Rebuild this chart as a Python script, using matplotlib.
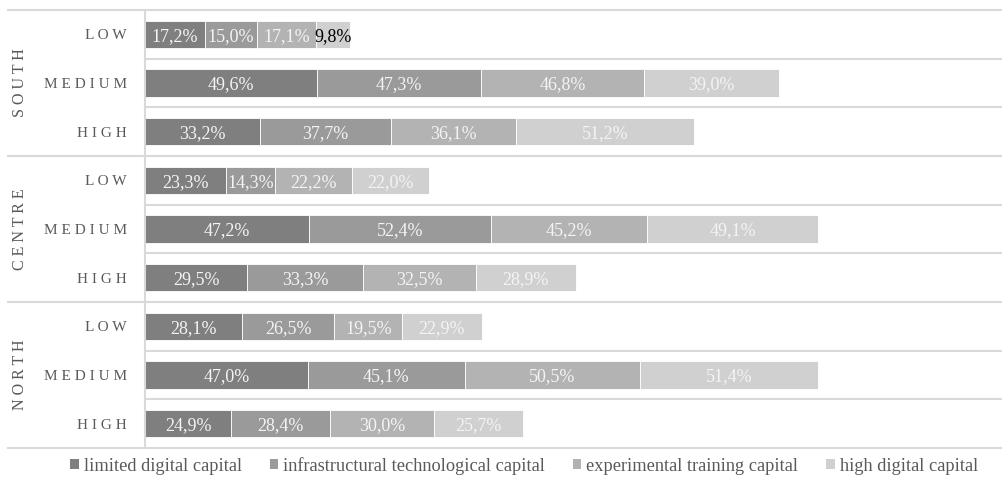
import matplotlib.pyplot as plt
import matplotlib.transforms as mtransforms
from matplotlib.patches import Patch

plt.rcParams['font.family'] = ['Liberation Serif', 'DejaVu Serif']

# Share of each capital profile by area and level (%)
regions = ['SOUTH', 'CENTRE', 'NORTH']
levels = ['LOW', 'MEDIUM', 'HIGH']
series = ['limited digital capital', 'infrastructural technological capital',
          'experimental training capital', 'high digital capital']

limited = [17.2, 49.6, 33.2, 23.3, 47.2, 29.5, 28.1, 47.0, 24.9]
infrastructural = [15.0, 47.3, 37.7, 14.3, 52.4, 33.3, 26.5, 45.1, 28.4]
experimental = [17.1, 46.8, 36.1, 22.2, 45.2, 32.5, 19.5, 50.5, 30.0]
high = [9.8, 39.0, 51.2, 22.0, 49.1, 28.9, 22.9, 51.4, 25.7]

colors = ['#7f7f7f', '#9a9a9a', '#b3b3b3', '#d0d0d0']
grid_col = '#d9d9d9'
text_col = '#595959'

fig = plt.figure(figsize=(10.02, 4.84), dpi=100)
ax = fig.add_axes([145 / 1002, 1 - 448 / 484, (1002 - 145) / 1002, (448 - 10) / 484])

n_rows = len(regions) * len(levels)
rows = list(range(n_rows))
left = [0.0] * n_rows
for vals, col in zip([limited, infrastructural, experimental, high], colors):
    ax.barh(rows, vals, left=left, height=0.56, color=col,
            edgecolor='white', linewidth=0.6)
    for r, v, l in zip(rows, vals, left):
        tc = 'black' if v < 10 else '#f4f4f4'
        ax.text(l + v / 2, r, f'{v:.1f}%'.replace('.', ','), ha='center',
                va='center_baseline', fontsize=13, color=tc)
    left = [a + b for a, b in zip(left, vals)]

ax.set_xlim(0, 247)
ax.set_ylim(n_rows - 0.5, -0.5)
ax.set_xticks([])
ax.set_yticks(rows)
ax.set_yticklabels([' '.join(lv) for lv in levels] * len(regions),
                   fontsize=11, color=text_col)
ax.tick_params(axis='y', length=0, pad=13)

for s in ['top', 'right', 'bottom']:
    ax.spines[s].set_visible(False)
ax.spines['left'].set_color(grid_col)
ax.spines['left'].set_linewidth(1.5)

# row separators, group separators run into the label area
trans = mtransforms.blended_transform_factory(ax.transAxes, ax.transData)
for k in range(n_rows + 1):
    y = k - 0.5
    x0 = (8 - 145) / 857 if k % 3 == 0 else 0
    ax.plot([x0, 1], [y, y], color=grid_col, lw=1.5, transform=trans,
            clip_on=False, zorder=0)

for i, reg in enumerate(regions):
    ax.text((20 - 145) / 857, i * 3 + 1, ' '.join(reg), transform=trans,
            rotation=90, ha='center', va='center', fontsize=11.5, color=text_col)

handles = [Patch(facecolor=c, edgecolor='none') for c in colors]
fig.legend(handles, series, loc='center', bbox_to_anchor=(524 / 1002, 1 - 466 / 484), ncol=4,
           frameon=False, fontsize=13.25, handlelength=0.47, handleheight=0.47,
           handletextpad=0.27, columnspacing=1.5, labelcolor=text_col)

fig.savefig('out.png', dpi=100)
